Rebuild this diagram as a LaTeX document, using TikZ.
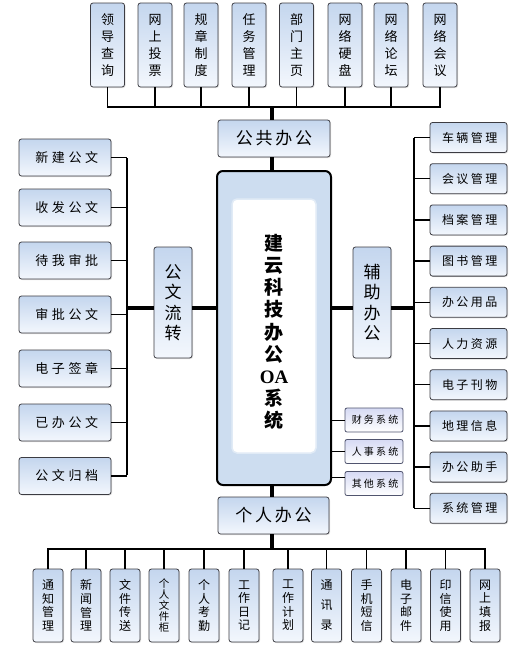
\documentclass[tikz,border=0pt]{standalone}
\usepackage{fontspec}
\newfontfamily\cjk{Noto Sans CJK SC}
\newfontfamily\cjkL{Noto Sans CJK SC}[LetterSpace=28]
\newfontfamily\cjkM{Noto Sans CJK SC}[LetterSpace=20]
\newfontfamily\cjkS{Noto Sans CJK SC}[LetterSpace=22]
\newfontfamily\cjkG{Noto Sans CJK SC}[LetterSpace=16]
\setmainfont{Liberation Serif}
\usetikzlibrary{shadows}
\definecolor{boxline}{RGB}{60,60,66}
\definecolor{boxtop}{RGB}{196,214,238}
\definecolor{boxbot}{RGB}{243,247,253}
\definecolor{mainfill}{RGB}{205,221,240}
\definecolor{systop}{RGB}{214,218,244}
\definecolor{sysline}{RGB}{80,84,110}
\begin{document}
\begin{tikzpicture}[x=1pt,y=-1pt,
  box/.style={draw=boxline, line width=0.8pt, rounded corners=2.5pt,
    top color=boxtop, bottom color=boxbot, inner sep=0pt, align=center,
    drop shadow={shadow xshift=1pt, shadow yshift=-1pt, opacity=0.25}},
  tbox/.style={box, minimum width=34pt, minimum height=84pt,
    font=\cjk\fontsize{13}{17}\selectfont},
  bbox/.style={box, minimum width=30pt, minimum height=73pt,
    font=\cjk\fontsize{12}{13.6}\selectfont},
  lbox/.style={box, minimum width=92pt, minimum height=37pt,
    font=\cjkL\fontsize{13}{15}\selectfont},
  rbox/.style={box, minimum width=77pt, minimum height=30pt,
    font=\cjkM\fontsize{12}{14}\selectfont},
  hub/.style={box, font=\cjk\fontsize{17}{20.5}\selectfont},
  sysbox/.style={draw=sysline, line width=0.8pt, rounded corners=2pt,
    top color=systop, bottom color=white, inner sep=0pt,
    minimum width=58pt, minimum height=24pt,
    font=\cjkS\fontsize{10}{12}\selectfont},
  thn/.style={line width=1.4pt, black},
  thk/.style={line width=4pt, black}]
\useasboundingbox (0,0) rectangle (524,648);

% ---------- top row ----------
\foreach \n/\x/\t in {1/107.5/{领\\导\\查\\询},2/155/{网\\上\\投\\票},3/201/{规\\章\\制\\度},4/249/{任\\务\\管\\理},5/296.5/{部\\门\\主\\页},6/345/{网\\络\\硬\\盘},7/391/{网\\络\\论\\坛},8/440/{网\\络\\会\\议}}
  \node[tbox] (t\n) at (\x,45) {\t};
\coordinate (bt) at (272,107);
\foreach \n in {1,...,8} \draw[thn] (t\n.south) -- (t\n.south |- bt);
\draw[thn] ([xshift=-0.7pt]t1.south |- bt) -- ([xshift=0.7pt]t8.south |- bt);

\node[hub, minimum width=112pt, minimum height=37pt, font=\cjkG\fontsize{17}{20}\selectfont] (gg) at (274,138.5) {公共办公};
\draw[thk] (bt) -- (bt |- gg.north);

% ---------- central box ----------
\node[draw=black, line width=2pt, rounded corners=6pt, fill=mainfill,
  minimum width=114pt, minimum height=314pt, inner sep=0pt] (c) at (274,328) {};
\node[fill=white, rounded corners=5pt, minimum width=84pt, minimum height=254pt,
  inner sep=0pt, draw=mainfill!60!white, line width=1.5pt] (w) at (274,326) {};
\node[align=center, font=\cjk\bfseries\fontsize{19}{22.2}\selectfont] (title) at (274,332)
  {建\\云\\科\\技\\办\\公\\{\rmfamily\bfseries OA}\\系\\统};
\draw[thk] (bt |- gg.south) -- (bt |- c.north);

% ---------- left column ----------
\foreach \n/\y/\t in {1/157.5/新建公文,2/207.5/收发公文,3/260.5/待我审批,4/314.5/审批公文,5/368.5/电子签章,6/422.5/已办公文,7/476/公文归档}
  \node[lbox] (l\n) at (65,\y) {\t\kern-3.6pt};
\coordinate (lb) at (127,308);
\foreach \n in {1,...,7} \draw[thn] (l\n.east) -- (l\n.east -| lb);
\draw[thn] ([yshift=-0.7pt]l1.east -| lb) -- ([yshift=0.7pt]l7.east -| lb);
\node[hub, minimum width=38pt, minimum height=111pt] (gw) at (173,302.5) {公\\文\\流\\转};
\draw[thk] (lb) -- (lb -| gw.west);
\draw[thk] (gw.east |- lb) -- (c.west |- lb);

% ---------- right column ----------
\foreach \n/\y/\t in {1/137.5/车辆管理,2/178.7/会议管理,3/219.9/档案管理,4/261.1/图书管理,5/302.3/办公用品,6/343.5/人力资源,7/384.7/电子刊物,8/425.9/地理信息,9/467.1/办公助手,10/508.3/系统管理}
  \node[rbox] (r\n) at (468.5,\y) {\t\kern-2.4pt};
\coordinate (rb) at (414,308);
\foreach \n in {1,...,10} \draw[thn] (r\n.west) -- (r\n.west -| rb);
\draw[thn] ([yshift=-0.7pt]r1.west -| rb) -- ([yshift=0.7pt]r10.west -| rb);
\node[hub, minimum width=38pt, minimum height=111pt] (fz) at (372,302.5) {辅\\助\\办\\公};
\draw[thk] (rb) -- (rb -| fz.east);
\draw[thk] (fz.west |- rb) -- (c.east |- rb);

% ---------- small system boxes ----------
\node[sysbox] (s1) at (374,420) {财务系统\kern-2.2pt};
\node[sysbox] (s2) at (374,451.5) {人事系统\kern-2.2pt};
\node[sysbox] (s3) at (374,483.5) {其他系统\kern-2.2pt};
\draw[thn, line width=1pt] (c.east |- s1.west) -- (s1.west);
\draw[thn, line width=1pt] (c.east |- s2.west) -- (s2.west);
\coordinate (s3c) at (345,477);
\draw[thn, line width=1pt] (c.east |- s3c) -- (s3c);

% ---------- bottom ----------
\node[hub, minimum width=111pt, minimum height=37pt, font=\cjkG\fontsize{17}{20}\selectfont] (gr) at (273.5,515.5) {个人办公};
\coordinate (bb) at (272,549);
\draw[thk] (bb |- c.south) -- (bb |- gr.north);
\draw[thk] (bb |- gr.south) -- (bb);
\foreach \n/\x/\t in {1/48/{通\\知\\管\\理},2/86/{新\\闻\\管\\理},3/125/{文\\件\\传\\送},5/204/{个\\人\\考\\勤},6/244/{工\\作\\日\\记},7/288/{工\\作\\计\\划},9/366.5/{手\\机\\短\\信},10/406/{电\\子\\邮\\件},11/445.5/{印\\信\\使\\用},12/485/{网\\上\\填\\报}}
  \node[bbox] (b\n) at (\x,605.5) {\t};
\node[bbox, font=\cjk\fontsize{10.5}{11.2}\selectfont] (b4) at (164,605.5) {个\\人\\文\\件\\柜};
\node[bbox, font=\cjk\fontsize{12}{20}\selectfont] (b8) at (326.5,605.5) {通\\讯\\录};
\foreach \n in {1,...,12} \draw[thn] (b\n.north) -- (b\n.north |- bb);
\draw[thn] ([xshift=-0.7pt]b1.north |- bb) -- ([xshift=0.7pt]b12.north |- bb);
\end{tikzpicture}
\end{document}
